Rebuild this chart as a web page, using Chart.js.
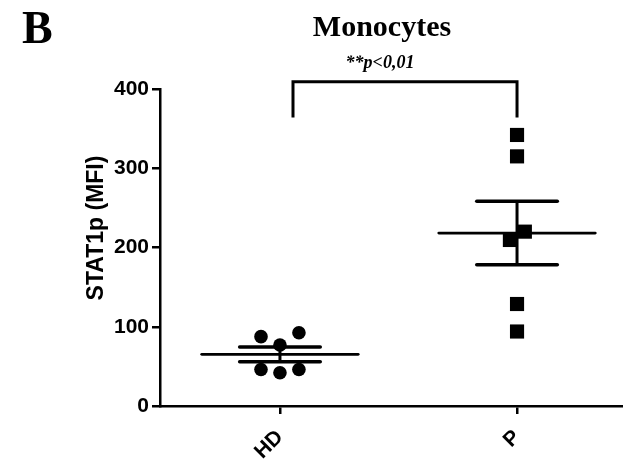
<!DOCTYPE html>
<html><head><meta charset="utf-8">
<script src="https://cdn.jsdelivr.net/npm/chart.js@4"></script>
<style>html,body{margin:0;padding:0;background:#fff}#wrap{width:623px;height:462px}</style>
</head><body><div id="wrap"><canvas id="c" width="623" height="462"></canvas></div>
<script>
// ---- data ----
const categories = ['HD', 'P'];
const hdValues = [87.5, 92.5, 77, 46, 42, 46];
const pValues = [342, 315, 220, 209.5, 128.7, 94];
const yTicks = [0, 100, 200, 300, 400];
const hdJitter = [-0.08, 0.08, 0, -0.08, 0, 0.08];
const pJitter = [0, 0, 0.033, -0.03, 0, 0];
const pLabel = '**p<0,01';
const titleText = 'Monocytes';
const panelLetter = 'B';
const yTitle = 'STAT1p (MFI)';

function mean(a){return a.reduce((s,v)=>s+v,0)/a.length;}
function sem(a){const m=mean(a);const v=a.reduce((s,x)=>s+(x-m)*(x-m),0)/(a.length-1);return Math.sqrt(v/a.length);}

const groups = [hdValues, pValues];
const jitters = [hdJitter, pJitter];
const styles = ['circle', 'rect'];
const radii = [6.8, 10];
const MEAN_HALF = 0.33, CAP_HALF = 0.17;

const datasets = [];
groups.forEach((vals, gi) => {
  const m = mean(vals), s = sem(vals);
  datasets.push({type:'scatter', data: vals.map((v,i)=>({x: gi + jitters[gi][i], y: v})),
    pointStyle: styles[gi], pointRadius: radii[gi], pointHoverRadius: radii[gi],
    backgroundColor:'#000', borderColor:'#000', borderWidth:0});
  datasets.push({type:'scatter', showLine:true, data:[{x:gi-MEAN_HALF,y:m},{x:gi+MEAN_HALF,y:m}],
    borderColor:'#000', borderWidth:2.8, pointRadius:0, borderCapStyle:'round'});
  datasets.push({type:'scatter', showLine:true, data:[{x:gi-CAP_HALF,y:m+s},{x:gi+CAP_HALF,y:m+s}],
    borderColor:'#000', borderWidth:3.5, pointRadius:0, borderCapStyle:'round'});
  datasets.push({type:'scatter', showLine:true, data:[{x:gi-CAP_HALF,y:m-s},{x:gi+CAP_HALF,y:m-s}],
    borderColor:'#000', borderWidth:3.5, pointRadius:0, borderCapStyle:'round'});
  datasets.push({type:'scatter', showLine:true, data:[{x:gi,y:m-s},{x:gi,y:m+s}],
    borderColor:'#000', borderWidth:3, pointRadius:0});
});

const decor = {
  id:'decor',
  afterDraw(chart){
    const ctx = chart.ctx, xs = chart.scales.x, ys = chart.scales.y;
    ctx.save();
    ctx.fillStyle = '#000';
    ctx.textBaseline = 'alphabetic';
    ctx.font = 'bold 46px "Liberation Serif"';
    ctx.textAlign = 'left';
    ctx.fillText(panelLetter, 22, 43);
    ctx.font = 'bold 30px "Liberation Serif"';
    ctx.textAlign = 'center';
    ctx.fillText(titleText, 382, 36);
    ctx.font = 'italic bold 18px "Liberation Serif"';
    ctx.fillText(pLabel, 380, 68);
    // bracket
    ctx.strokeStyle = '#000';
    ctx.lineWidth = 3;
    ctx.lineJoin = 'miter';
    const x1 = xs.getPixelForValue(0.055), x2 = xs.getPixelForValue(1);
    const yt = ys.getPixelForValue(409), yb = ys.getPixelForValue(364);
    ctx.beginPath();
    ctx.moveTo(x1, yb); ctx.lineTo(x1, yt); ctx.lineTo(x2, yt); ctx.lineTo(x2, yb);
    ctx.stroke();
    // y title
    ctx.translate(97, 228);
    ctx.rotate(-Math.PI/2);
    ctx.font = 'bold 23px "Liberation Sans"';
    ctx.textAlign = 'center';
    ctx.textBaseline = 'middle';
    ctx.fillText(yTitle, 0, 0);
    ctx.restore();
  }
};

new Chart(document.getElementById('c'), {
  type:'scatter',
  data:{datasets},
  options:{
    responsive:false, animation:false, events:[],
    layout:{autoPadding:false, padding:{top:89, left:0, right:0, bottom:0}},
    plugins:{legend:{display:false}, tooltip:{enabled:false}, title:{display:false}},
    scales:{
      x:{type:'linear', min:-0.506, max:1.447,
        afterBuildTicks(s){ s.ticks = categories.map((c,i)=>({value:i})); },
        afterFit(s){ s.height = 56; s.paddingLeft = 0; s.paddingRight = 0; },
        ticks:{callback:(v)=>categories[v] ?? '', minRotation:45, maxRotation:45, autoSkip:false,
          color:'#000', font:{family:'Liberation Sans', size:21, weight:'bold'}, padding:11},
        grid:{drawOnChartArea:false, drawTicks:true, tickLength:8, color:'#000', lineWidth:2.5},
        border:{display:true, color:'#000', width:2.5}
      },
      y:{min:0, max:400,
        afterBuildTicks(s){ s.ticks = yTicks.map(v=>({value:v})); },
        afterFit(s){ s.width = 160; s.paddingTop = 0; s.paddingBottom = 0; },
        ticks:{color:'#000', font:{family:'Liberation Sans', size:21, weight:'bold'}, padding:3},
        grid:{drawOnChartArea:false, drawTicks:true, tickLength:8, color:'#000', lineWidth:2.5},
        border:{display:true, color:'#000', width:2.5}
      }
    }
  },
  plugins:[decor]
});
</script></body></html>
